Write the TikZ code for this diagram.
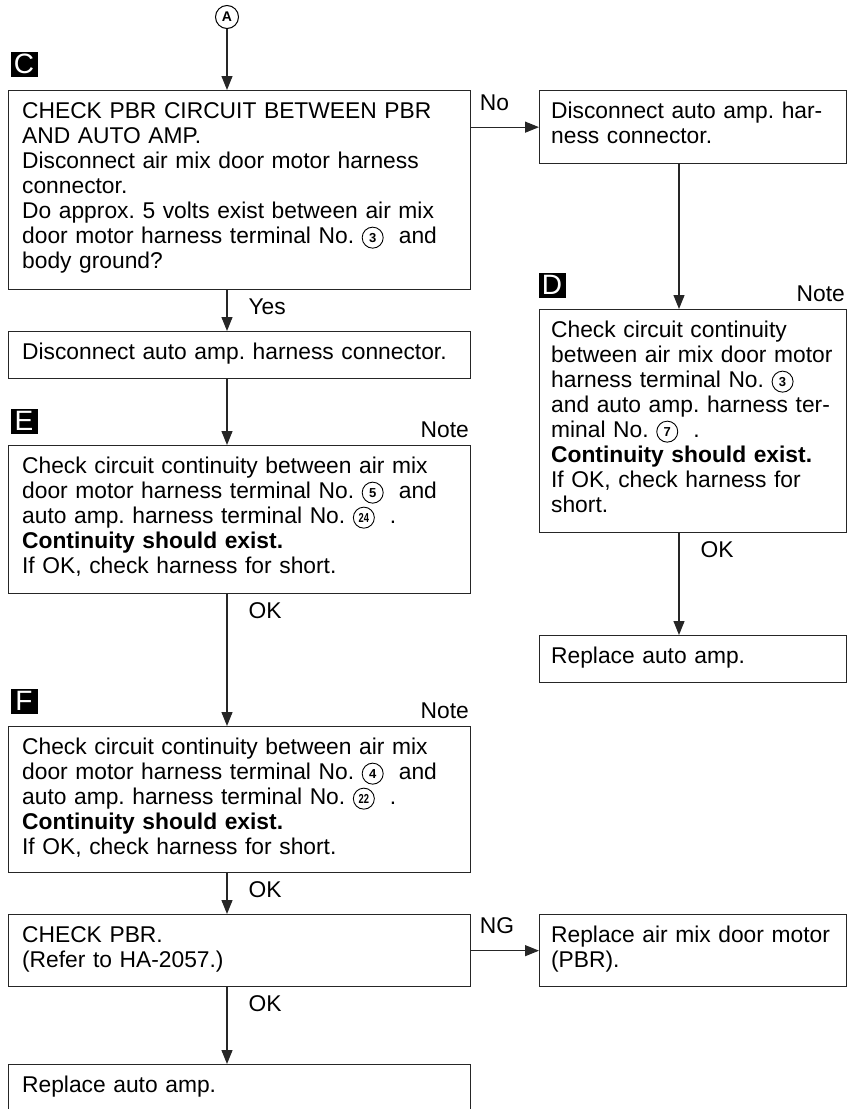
\documentclass[tikz,border=0pt]{standalone}
\usepackage{fontspec}
\setmainfont{Liberation Sans}
\usepackage{tikz}
\usetikzlibrary{arrows.meta,positioning}
\frenchspacing
\hyphenpenalty=10000

% circled terminal numbers
\newcommand{\cnum}[1]{\tikz[baseline={([yshift=-5.5pt]cn.center)}]\node[draw,circle,line width=0.9pt,inner sep=0pt,minimum size=21pt,font=\fontsize{13}{13}\selectfont\bfseries](cn){#1};}
\newcommand{\cnumw}[1]{\cnum{\scalebox{0.72}[1]{#1}}}

\begin{document}
\begin{tikzpicture}[x=1pt, y=-1pt,
    font=\fontsize{22.8}{25}\selectfont,
    box/.style = {draw=black!85, line width=1.3pt, anchor=north west, align=left, inner ysep=0pt, text height=27.5pt},
    wide/.style = {box, inner xsep=13.5pt, text width=435pt},
    narrow/.style = {box, inner xsep=11.5pt, text width=284pt},
    tag/.style = {fill=black, text=white, minimum width=27pt, minimum height=25pt, inner sep=0pt, font=\fontsize{28}{28}\selectfont},
    note/.style = {anchor=base east, inner sep=0pt},
    arr/.style = {-{Triangle[length=14pt,width=11pt]}, line width=1.2pt, draw=black!85},
    lbl/.style = {anchor=base west, inner sep=0pt, at start, xshift=21pt, yshift=-24pt},
    side/.style = {anchor=base west, inner sep=0pt, at start, xshift=8pt, yshift=17pt}]
    \clip (0,0) rectangle (861,1109);

    \node (A) [draw, circle, line width=1pt, inner sep=0pt, minimum size=23pt, font=\fontsize{14}{14}\selectfont\bfseries] at (227,17) {A};
    \coordinate (dx) at (679,0);

    % left column
    \node[tag] (tC) at (24,64) {C};
    \node[wide, text depth=171.5pt] (C) at (8,90) {CHECK PBR CIRCUIT BETWEEN PBR\\AND AUTO AMP.\\Disconnect air mix door motor harness\\connector.\\Do approx. 5 volts exist between air mix\\door motor harness terminal No. \cnum{3}\ \ and\\body ground?};
    \node[wide, text depth=19.5pt] (amp2) at (8,331) {Disconnect auto amp. harness connector.};

    \node[tag] (tE) at (24,421) {E};
    \node[note] (nE) at (469,437) {Note};
    \node[wide, text depth=120.5pt] (E) at (8,445) {Check circuit continuity between air mix\\door motor harness terminal No. \cnum{5}\ \ and\\auto amp. harness terminal No. \cnumw{24}\ \ .\\\textbf{Continuity should exist.}\\If OK, check harness for short.};

    \node[tag] (tF) at (24,701) {F};
    \node[note] (nF) at (469,718) {Note};
    \node[wide, text depth=118.5pt] (F) at (8,726) {Check circuit continuity between air mix\\door motor harness terminal No. \cnum{4}\ \ and\\auto amp. harness terminal No. \cnumw{22}\ \ .\\\textbf{Continuity should exist.}\\If OK, check harness for short.};

    \node[wide, text depth=44.5pt] (pbr) at (8,914) {CHECK PBR.\\(Refer to HA-2057.)};
    \node[wide, text depth=28.5pt] (last) at (8,1064) {Replace auto amp.};

    % right column
    \node[narrow, text depth=45.5pt] (amp) at (539,90) {Disconnect auto amp. har-\\ness connector.};
    \node[tag] (tD) at (552,285) {D};
    \node[note] (nD) at (845,301) {Note};
    \node[narrow, text depth=195.5pt] (D) at (539,309) {Check circuit continuity\\between air mix door motor\\harness terminal No. \cnum{3}\\and auto amp. harness ter-\\minal No. \cnum{7}\ \ .\\\textbf{Continuity should exist.}\\If OK, check harness for\\short.};
    \node[narrow, text depth=19.5pt] (rep) at (539,635) {Replace auto amp.};
    \node[narrow, text depth=44.5pt] (motor) at (539,914) {Replace air mix door motor\\(PBR).};

    \draw[arr] (A) -- (A |- C.north);
    \draw[arr] (C.east |- amp.west) -- node[side] {No} (amp.west);
    \draw[arr] (A |- C.south) -- node[lbl] {Yes} (A |- amp2.north);
    \draw[arr] (A |- amp2.south) -- (A |- E.north);
    \draw[arr] (A |- E.south) -- node[lbl] {OK} (A |- F.north);
    \draw[arr] (A |- F.south) -- node[lbl] {OK} (A |- pbr.north);
    \draw[arr] (pbr.east) -- node[side] {NG} (motor.west);
    \draw[arr] (A |- pbr.south) -- node[lbl] {OK} (A |- last.north);
    \draw[arr] (dx |- amp.south) -- (dx |- D.north);
    \draw[arr] (dx |- D.south) -- node[lbl] {OK} (dx |- rep.north);
\end{tikzpicture}
\end{document}
